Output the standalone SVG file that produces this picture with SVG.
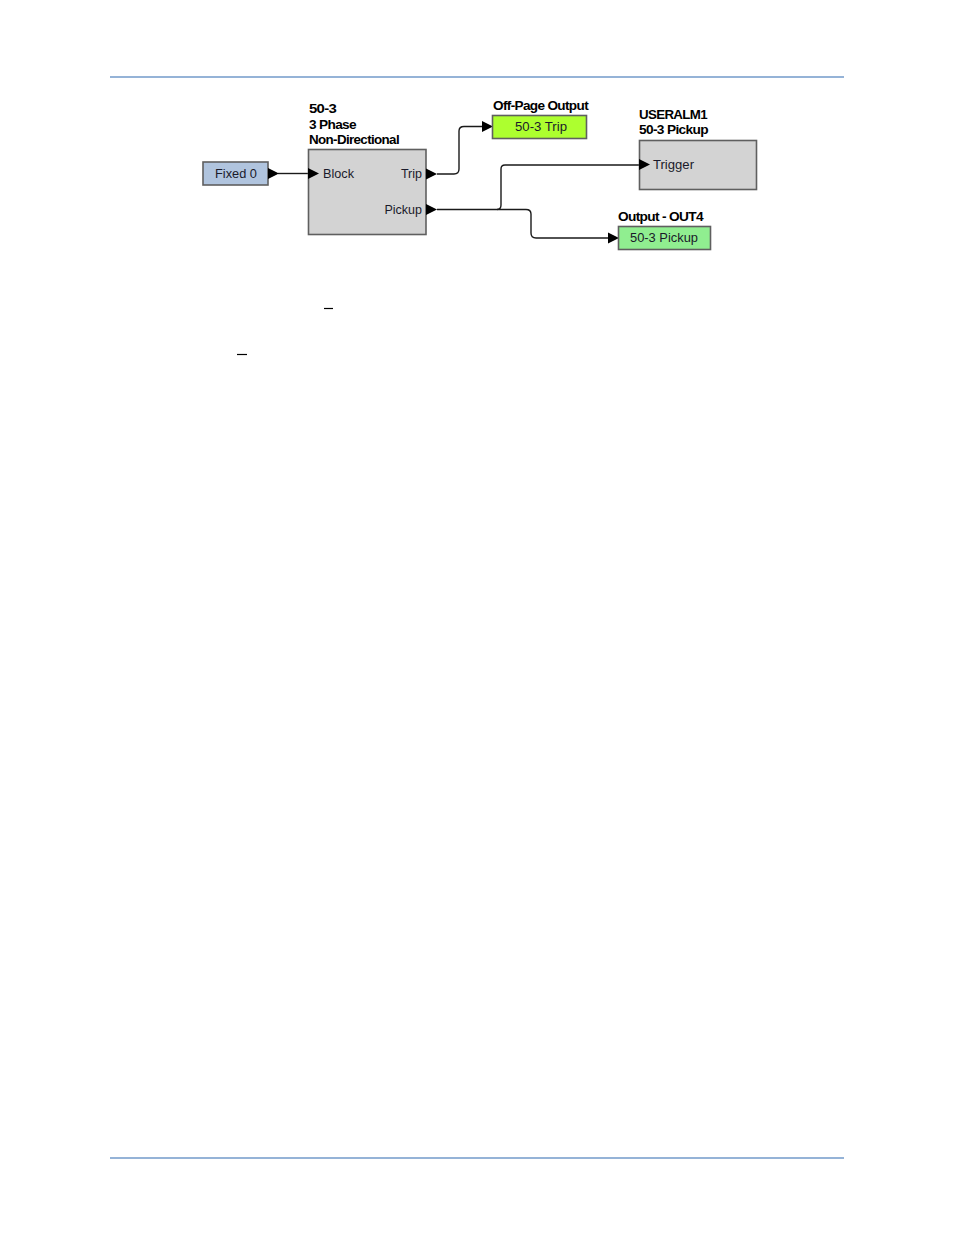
<svg xmlns="http://www.w3.org/2000/svg" width="954" height="1235" viewBox="0 0 954 1235">
<style>
.rule{stroke:#95b3d7;stroke-width:2;fill:none}
.title{font-family:"Liberation Sans",Arial,sans-serif;font-size:12.5px;font-weight:bold;fill:#000;letter-spacing:-0.6px}
.lbl{font-family:"Liberation Sans",Arial,sans-serif;font-size:12.5px;fill:#1a1a2a}
.box{stroke:#5f5f5f;stroke-width:1.6}
.wire{stroke:#1a1a1a;stroke-width:1.4;fill:none}
.tri{fill:#000}
</style>
<rect width="954" height="1235" fill="#fff"/>
<line class="rule" x1="110" y1="77" x2="844" y2="77"/>
<line class="rule" x1="110" y1="1158" x2="844" y2="1158"/>

<g id="connectors">
<path class="wire" d="M278,173.5 H308"/>
<path class="wire" d="M437,174 H454 Q459,174 459,169 V131 Q459,126.5 464,126.5 H482"/>
<path class="wire" d="M437,209.5 H497 Q501,209.5 501,205 V169 Q501,165 505,165 H639"/>
<path class="wire" d="M497,209.5 H526 Q531,209.5 531,214 V233 Q531,238 536,238 H608"/>
<polygon class="tri" points="482,121 493,126.5 482,132"/>
<polygon class="tri" points="608,232.5 619,238 608,243.5"/>
</g>

<g id="fixed0">
<rect class="box" x="203" y="162" width="65" height="23" fill="#b0c4de" stroke="#5a6a80"/>
<text class="lbl" x="215" y="178" textLength="42" lengthAdjust="spacingAndGlyphs">Fixed 0</text>
<polygon class="tri" points="268,168 279,173.5 268,179"/>
</g>

<g id="n50-3">
<text class="title" x="309" y="113" textLength="27" lengthAdjust="spacingAndGlyphs">50-3</text>
<text class="title" x="309" y="128.5" textLength="47" lengthAdjust="spacingAndGlyphs">3 Phase</text>
<text class="title" x="309" y="144" textLength="90" lengthAdjust="spacingAndGlyphs">Non-Directional</text>
<rect class="box" x="308.5" y="149.5" width="117.5" height="85" fill="#d3d3d3"/>
<polygon class="tri" points="308,168 319,173.5 308,179"/>
<text class="lbl" x="323" y="178" textLength="31" lengthAdjust="spacingAndGlyphs">Block</text>
<text class="lbl" x="422" y="178" text-anchor="end">Trip</text>
<polygon class="tri" points="426,168.5 437,174 426,179.5"/>
<text class="lbl" x="422" y="213.5" text-anchor="end">Pickup</text>
<polygon class="tri" points="426,204 437,209.5 426,215"/>
</g>

<g id="offpage">
<text class="title" x="493" y="110" textLength="95" lengthAdjust="spacingAndGlyphs">Off-Page Output</text>
<rect class="box" x="492.5" y="115.5" width="94" height="23" fill="#adff2f"/>
<text class="lbl" x="515" y="131" textLength="52" lengthAdjust="spacingAndGlyphs">50-3 Trip</text>
</g>

<g id="useralm1">
<text class="title" x="639" y="118.5" textLength="68" lengthAdjust="spacingAndGlyphs">USERALM1</text>
<text class="title" x="639" y="134" textLength="69" lengthAdjust="spacingAndGlyphs">50-3 Pickup</text>
<rect class="box" x="639.5" y="140.5" width="117" height="49" fill="#d3d3d3"/>
<polygon class="tri" points="639,159 650,164.5 639,170"/>
<text class="lbl" x="653" y="168.5" textLength="41" lengthAdjust="spacingAndGlyphs">Trigger</text>
</g>

<g id="out4">
<text class="title" x="618" y="221" textLength="85" lengthAdjust="spacingAndGlyphs">Output - OUT4</text>
<rect class="box" x="618.5" y="226.5" width="92" height="23" fill="#90ee90"/>
<text class="lbl" x="630" y="242" textLength="68" lengthAdjust="spacingAndGlyphs">50-3 Pickup</text>
</g>

<line x1="324" y1="308.5" x2="333" y2="308.5" stroke="#000" stroke-width="1.2"/>
<line x1="237" y1="354.5" x2="247" y2="354.5" stroke="#000" stroke-width="1.2"/>
</svg>
